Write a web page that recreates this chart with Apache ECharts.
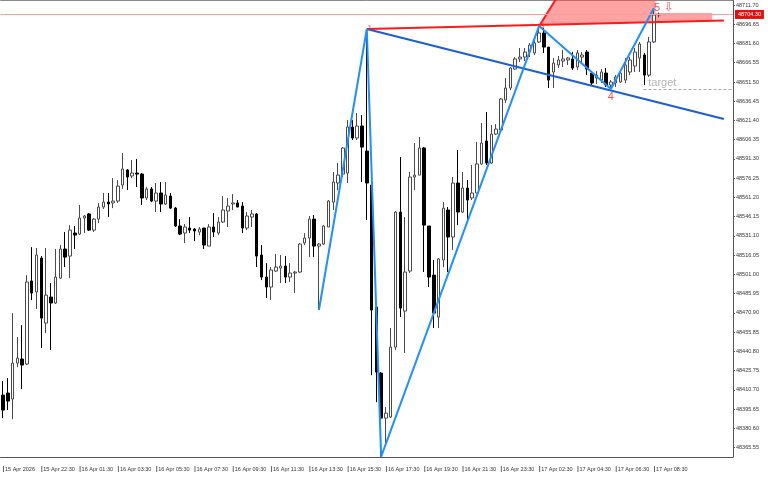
<!DOCTYPE html>
<html>
<head>
<meta charset="utf-8">
<title>US30 M15</title>
<script src="https://cdn.jsdelivr.net/npm/echarts@6/dist/echarts.min.js"></script>
<style>
  html, body { margin: 0; padding: 0; background: #fff; }
  #main { width: 768px; height: 480px; }
</style>
</head>
<body>
<div id="main"></div>
<script>
// 15 min bars
var open = [48406.7,48408.3,48403.6,48431.7,48434.9,48431.0,48495.9,48487.3,48513.8,48463.0,
  48483.3,48478.7,48498.2,48520.9,48515.4,48533.4,48532.6,48545.1,48548.3,48535.7,
  48544.3,48553.7,48557.6,48556.9,48558.4,48570.9,48582.7,48578.0,48580.3,48579.5,
  48560.8,48567.8,48558.4,48564.7,48556.1,48562.3,48552.9,48538.9,48533.4,48537.3,
  48536.5,48534.2,48537.3,48523.2,48538.1,48533.4,48542.0,48550.6,48556.1,48556.9,
  48554.5,48537.3,48545.9,48548.3,48516.2,48499.0,48491.2,48503.7,48506.0,48507.6,
  48499.0,48502.1,48502.9,48525.6,48529.5,48544.3,48523.2,48524.8,48538.1,48557.6,
  48572.5,48579.5,48580.3,48616.3,48607.7,48617.1,48597.5,48570.9,48475.5,48423.9,
  48388.7,48389.5,48444.2,48549.8,48472.4,48503.7,48577.2,48578.7,48599.9,48538.9,
  48500.5,48467.7,48512.3,48551.4,48530.3,48572.5,48549.8,48568.6,48560.8,48564.7,
  48587.4,48605.3,48588.1,48610.8,48613.9,48637.4,48646.8,48661.6,48669.5,48671.0,
  48674.9,48674.2,48682.8,48689.8,48678.8,48659.3,48664.8,48667.9,48668.7,48669.5,
  48663.2,48671.0,48674.9,48658.5,48654.6,48653.0,48658.5,48649.1,48650.7,48651.5,
  48653.0,48659.3,48664.0,48670.2,48672.6,48656.9,48682.8,48703.9];
var close = [48395.0,48402.0,48431.7,48435.6,48430.2,48495.1,48486.5,48516.2,48466.9,48484.9,
  48478.7,48499.0,48520.9,48514.6,48535.7,48531.8,48545.1,48546.7,48535.7,48544.3,
  48553.7,48557.6,48556.1,48558.4,48570.1,48583.4,48577.2,48580.3,48579.5,48560.8,
  48567.8,48558.4,48564.7,48556.1,48563.1,48552.9,48538.9,48532.6,48538.1,48535.7,
  48535.0,48536.5,48524.0,48538.1,48534.2,48542.0,48551.4,48554.5,48556.9,48553.7,
  48537.3,48546.7,48548.3,48515.4,48499.0,48491.2,48504.5,48506.8,48507.6,48499.0,
  48502.1,48502.9,48524.8,48529.5,48544.3,48523.2,48524.8,48538.9,48558.4,48573.3,
  48578.7,48599.9,48616.3,48607.7,48617.1,48600.6,48572.5,48473.2,48424.7,48388.7,
  48392.6,48444.2,48549.8,48474.7,48502.9,48577.2,48578.7,48599.9,48539.6,48499.0,
  48470.8,48513.1,48552.9,48530.3,48572.5,48549.8,48568.6,48559.2,48564.7,48587.4,
  48603.8,48588.1,48610.8,48614.7,48638.2,48646.8,48662.4,48669.5,48671.0,48674.9,
  48680.4,48682.0,48689.8,48678.8,48653.0,48666.3,48668.7,48669.5,48670.2,48662.4,
  48674.2,48672.6,48661.6,48650.7,48656.9,48659.3,48649.1,48651.5,48655.4,48658.5,
  48664.8,48668.7,48674.9,48681.2,48656.9,48682.8,48703.9,48704.3];
var low = [48388.7,48395.0,48387.9,48428.6,48411.4,48430.2,48481.0,48474.0,48443.5,48455.2,
  48441.9,48477.9,48497.4,48506.8,48498.2,48520.9,48531.8,48533.4,48535.0,48534.2,
  48541.2,48552.2,48545.9,48552.9,48556.9,48567.8,48567.0,48576.4,48569.4,48555.3,
  48559.2,48557.6,48549.8,48549.8,48555.3,48552.2,48538.1,48531.8,48525.6,48533.4,
  48527.1,48531.8,48520.9,48523.2,48530.3,48531.8,48541.2,48538.1,48551.4,48553.7,
  48533.4,48535.7,48538.1,48506.8,48496.6,48482.6,48481.0,48502.9,48494.3,48494.3,
  48495.1,48486.5,48502.1,48524.0,48514.6,48514.6,48473.2,48524.0,48538.1,48551.4,
  48567.0,48577.2,48572.5,48606.1,48606.1,48573.3,48543.6,48422.3,48401.2,48358.6,
  48369.2,48388.7,48441.9,48467.7,48439.6,48502.1,48567.0,48578.7,48502.9,48491.2,
  48459.1,48459.1,48506.8,48502.9,48520.1,48539.6,48549.0,48542.0,48559.2,48564.7,
  48586.6,48586.6,48587.4,48610.0,48613.2,48635.1,48645.2,48660.9,48667.1,48667.9,
  48671.0,48672.6,48682.0,48674.2,48646.8,48646.8,48662.4,48663.2,48664.8,48660.9,
  48660.9,48667.1,48656.9,48649.1,48649.9,48650.7,48647.6,48646.0,48647.6,48650.7,
  48650.7,48656.9,48659.3,48659.3,48649.1,48655.4,48682.0,48702.0];
var high = [48417.7,48420.0,48470.8,48452.1,48461.4,48500.5,48522.4,48521.7,48515.4,48521.7,
  48494.3,48520.9,48524.0,48534.2,48539.6,48538.9,48555.3,48547.5,48549.0,48545.1,
  48556.9,48564.7,48564.7,48576.4,48574.8,48596.0,48583.4,48590.5,48591.3,48580.3,
  48569.4,48569.4,48572.5,48573.3,48573.3,48564.7,48553.7,48544.3,48540.4,48545.9,
  48537.3,48538.1,48537.3,48540.4,48549.0,48545.9,48562.3,48560.8,48563.9,48559.2,
  48557.6,48549.8,48551.4,48549.0,48524.0,48509.9,48506.8,48517.0,48516.2,48515.4,
  48509.9,48503.7,48525.6,48533.4,48546.7,48547.5,48525.6,48539.6,48559.2,48581.1,
  48588.1,48600.6,48621.8,48621.8,48627.2,48625.7,48692.9,48573.3,48476.3,48424.7,
  48397.3,48459.1,48550.6,48592.8,48545.9,48581.1,48603.8,48608.5,48600.6,48538.9,
  48512.3,48513.8,48557.6,48553.7,48577.2,48598.3,48581.1,48574.8,48586.6,48604.6,
  48619.4,48628.0,48617.8,48618.6,48639.0,48654.6,48663.2,48671.0,48678.1,48678.1,
  48682.0,48686.7,48695.3,48693.7,48678.8,48670.2,48671.8,48676.5,48671.0,48674.9,
  48676.5,48674.9,48676.5,48660.1,48660.1,48661.6,48662.4,48653.0,48656.9,48660.9,
  48670.2,48671.0,48678.1,48682.8,48674.2,48686.7,48709.3,48705.8];

// one time label every 8 bars
var timeLabels = ['15 Apr 2026','15 Apr 22:30','16 Apr 01:30','16 Apr 03:30','16 Apr 05:30',
  '16 Apr 07:30','16 Apr 09:30','16 Apr 11:30','16 Apr 13:30','16 Apr 15:30','16 Apr 17:30',
  '16 Apr 19:30','16 Apr 21:30','16 Apr 23:30','17 Apr 02:30','17 Apr 04:30','17 Apr 06:30',
  '17 Apr 08:30'];
var priceTicks = [48365.55,48380.60,48395.65,48410.70,48425.75,48440.80,48455.85,48470.90,
  48485.95,48501.00,48516.05,48531.10,48546.15,48561.20,48576.25,48591.30,48606.35,48621.40,
  48636.45,48651.50,48666.55,48681.60,48696.65,48711.70];
var lastPrice = 48704.30;

// wolfe wave points 1..5 (plus the start leg): bar index and high/low
var wavePoints = [[66, 'low'], [76, 'high'], [79, 'low'], [112, 'high'], [127, 'low'], [136, 'high']];
// drawn objects, [bar position, price]
var line13 = [[76, 48692.9], [150.6, 48699.6]];
var line14 = [[76, 48692.9], [150.6, 48622.5]];
var steepLine = [[111.9, 48694.5], [116.7, 48723.4]];
var zone = [[112.3, 48696.05], [115.5, 48715.6], [136.3, 48715.6], [136.3, 48705.4],
  [148.1, 48705.4], [148.1, 48699.4]];
var targetLine = [[133.8, 48645.6], [152.5, 48645.6]];
var targetPrice = 48645.6;

var slots = 153;
var cats = [];
for (var i = 0; i < slots; i++) cats.push(String(i));

var candles = open.map(function (o, i) { return [o, close[i], low[i], high[i]]; });
var wave = wavePoints.map(function (p) {
  return [p[0], p[1] === 'high' ? high[p[0]] : low[p[0]]];
});
var wp = function (k) { return wave[k]; };

var chart = echarts.init(document.getElementById('main'));
var option = {
  animation: false,
  backgroundColor: '#fff',
  textStyle: { fontFamily: 'Liberation Sans' },
  grid: { left: -1.7, right: 35, top: 0, bottom: 23, show: false },
  xAxis: [{
    type: 'category',
    data: cats,
    boundaryGap: true,
    axisLine: { onZero: false, lineStyle: { color: '#555' } },
    axisTick: { show: false },
    axisLabel: {
      interval: function (i) { return i % 8 === 0 && i / 8 < timeLabels.length; },
      formatter: function (v, i) { return '{t| }{v|' + timeLabels[i / 8] + '}'; },
      align: 'left',
      margin: 9,
      rich: {
        t: { width: 1, height: 6, backgroundColor: '#666', fontSize: 5 },
        v: { padding: [0, 0, 0, 1], fontSize: 5.5, color: '#333', fontFamily: 'Liberation Sans' }
      }
    },
    splitLine: { show: false }
  }, {
    // hidden position axis for the drawn objects; only its line shows, as the top frame
    type: 'value', min: -0.5, max: slots - 0.5, position: 'top',
    axisLine: { show: true, onZero: false, lineStyle: { color: '#888' } },
    axisTick: { show: false }, axisLabel: { show: false }, splitLine: { show: false }
  }],
  yAxis: {
    type: 'value',
    position: 'right',
    min: 48358.3,
    max: 48715.6,
    axisLine: { show: true, onZero: false, lineStyle: { color: '#555' } },
    axisTick: { show: true, length: 2, customValues: priceTicks, lineStyle: { color: '#555' } },
    axisLabel: {
      customValues: priceTicks,
      formatter: function (v) { return v.toFixed(2); },
      margin: 3, fontSize: 5.5, color: '#333', fontFamily: 'Liberation Sans'
    },
    splitLine: { show: false }
  },
  series: [
    {
      type: 'custom', xAxisIndex: 1, silent: true, z: 1,
      data: [[zone[0][0], zone[0][1]]],
      renderItem: function (params, api) {
        return {
          type: 'polygon',
          shape: { points: zone.map(function (p) { return api.coord(p); }) },
          style: { fill: 'rgba(255,70,70,0.5)' }
        };
      }
    },
    {
      type: 'candlestick', xAxisIndex: 0, data: candles, barWidth: 3, z: 2,
      itemStyle: { color: '#fff', color0: '#000', borderColor: '#4a4a4a', borderColor0: '#000', borderWidth: 1 },
      markLine: {
        symbol: 'none', silent: true,
        data: [{ yAxis: lastPrice }],
        lineStyle: { color: '#ff9c9c', width: 1, type: 'solid' },
        label: {
          position: 'end', distance: 2,
          formatter: function (p) { return Number(p.value).toFixed(2); },
          backgroundColor: '#e41010', color: '#fff', fontSize: 5.5, padding: [2, 3, 1, 3]
        }
      }
    },
    { type: 'line', xAxisIndex: 1, data: steepLine, symbol: 'none', z: 3,
      lineStyle: { color: '#ff1a1a', width: 2 } },
    { type: 'line', xAxisIndex: 1, data: line13, symbol: 'none', z: 3,
      lineStyle: { color: '#ff1a1a', width: 2 } },
    { type: 'line', xAxisIndex: 1, data: line14, symbol: 'none', z: 3,
      lineStyle: { color: '#1c5ed6', width: 2 } },
    { type: 'line', xAxisIndex: 1, data: wave, symbol: 'none', z: 4, clip: false,
      lineStyle: { color: '#1e90ff', width: 2 } },
    { type: 'line', xAxisIndex: 1, data: targetLine, symbol: 'none', z: 3, clip: false,
      lineStyle: { color: '#a8a8a8', width: 1, type: [3, 2] } },
    {
      type: 'scatter', xAxisIndex: 1, symbolSize: 0.1, z: 6, silent: true,
      itemStyle: { color: 'transparent' },
      label: { show: true, position: 'inside', color: '#ff2020', fontSize: 11 },
      data: [
        { value: wp(1), label: { formatter: '1', fontSize: 8, offset: [3, -1] } },
        { value: wp(3), label: { formatter: '3', fontSize: 8, offset: [3, 0] } },
        { value: wp(4), label: { formatter: '4', offset: [0, 8] } },
        { value: wp(5), label: { formatter: '5', offset: [3, 0] } },
        { value: wp(5), label: { formatter: '\u21e9', fontSize: 12, fontFamily: 'DejaVu Sans', offset: [15, 0] } },
        { value: [135, targetPrice], label: { formatter: 'target', position: 'right', distance: 0,
          offset: [-1, -7], color: '#a0a0a0', fontSize: 11 } }
      ]
    }
  ]
};
chart.setOption(option);
</script>
</body>
</html>
